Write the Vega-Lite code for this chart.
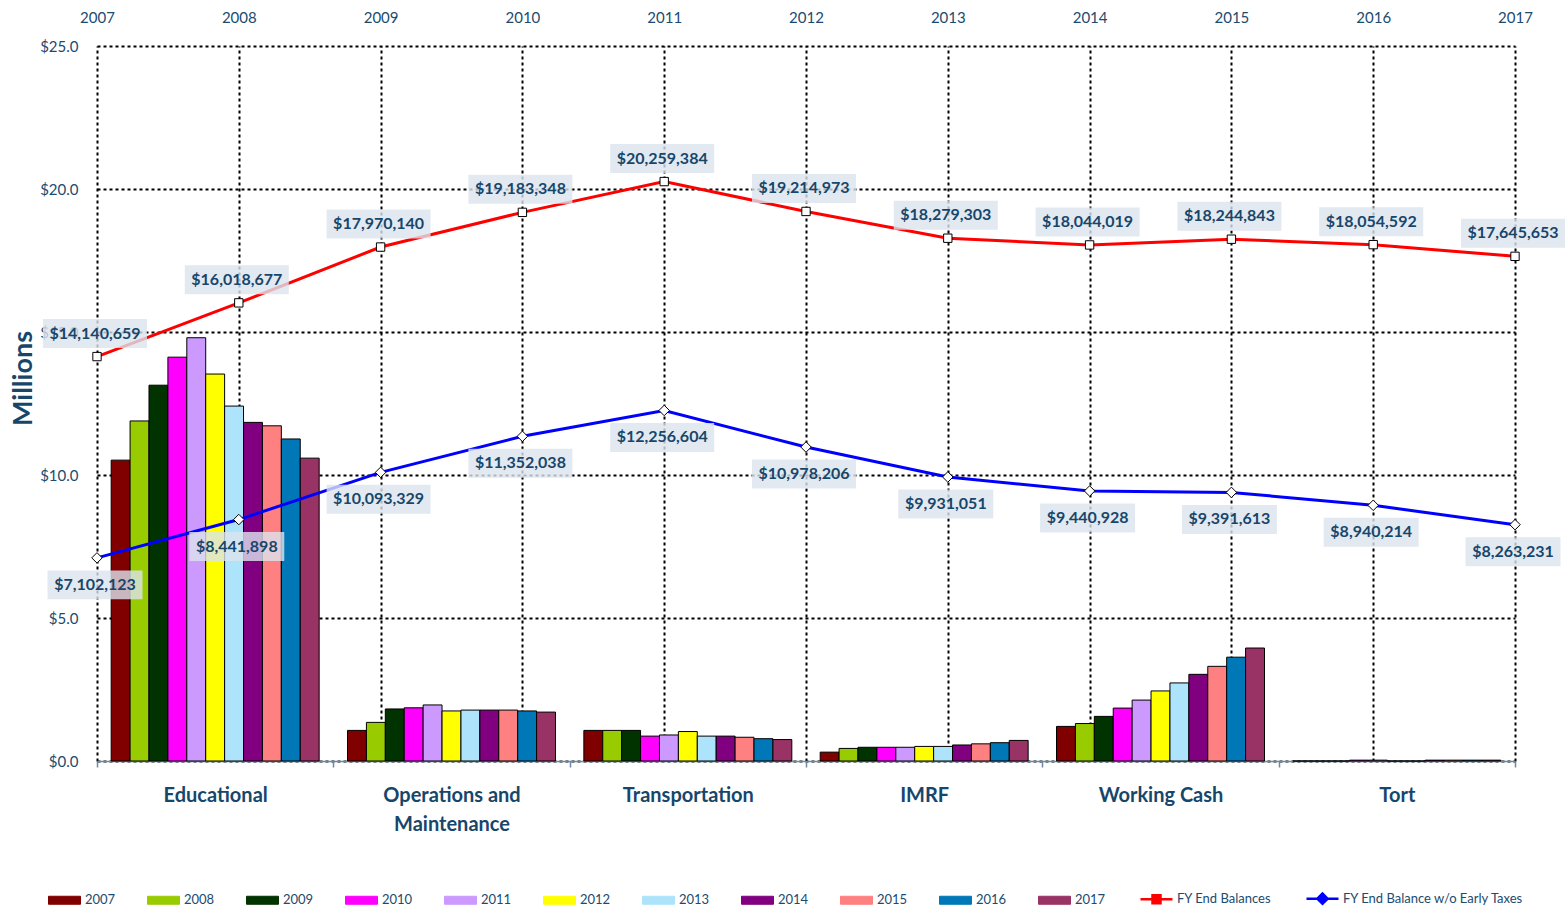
{
  "$schema": "https://vega.github.io/schema/vega-lite/v6.json",
  "width": 1418,
  "height": 715,
  "autosize": {"type": "none"},
  "padding": {"left": 97, "top": 46, "right": 52, "bottom": 148},
  "background": "white",
  "config": {
    "view": {"stroke": null},
    "font": "Lato",
    "axis": {"labelFont": "Lato", "titleFont": "Lato", "labelColor": "#1b4b6e", "titleColor": "#17466b"}
  },
  "datasets": {
    "bars": [
      {"category": "Educational", "year": "2007", "amount": 10520000},
      {"category": "Educational", "year": "2008", "amount": 11890000},
      {"category": "Educational", "year": "2009", "amount": 13140000},
      {"category": "Educational", "year": "2010", "amount": 14120000},
      {"category": "Educational", "year": "2011", "amount": 14800000},
      {"category": "Educational", "year": "2012", "amount": 13530000},
      {"category": "Educational", "year": "2013", "amount": 12410000},
      {"category": "Educational", "year": "2014", "amount": 11840000},
      {"category": "Educational", "year": "2015", "amount": 11720000},
      {"category": "Educational", "year": "2016", "amount": 11260000},
      {"category": "Educational", "year": "2017", "amount": 10590000},
      {"category": "Operations and Maintenance", "year": "2007", "amount": 1070000},
      {"category": "Operations and Maintenance", "year": "2008", "amount": 1350000},
      {"category": "Operations and Maintenance", "year": "2009", "amount": 1820000},
      {"category": "Operations and Maintenance", "year": "2010", "amount": 1860000},
      {"category": "Operations and Maintenance", "year": "2011", "amount": 1960000},
      {"category": "Operations and Maintenance", "year": "2012", "amount": 1750000},
      {"category": "Operations and Maintenance", "year": "2013", "amount": 1780000},
      {"category": "Operations and Maintenance", "year": "2014", "amount": 1780000},
      {"category": "Operations and Maintenance", "year": "2015", "amount": 1780000},
      {"category": "Operations and Maintenance", "year": "2016", "amount": 1750000},
      {"category": "Operations and Maintenance", "year": "2017", "amount": 1710000},
      {"category": "Transportation", "year": "2007", "amount": 1070000},
      {"category": "Transportation", "year": "2008", "amount": 1070000},
      {"category": "Transportation", "year": "2009", "amount": 1070000},
      {"category": "Transportation", "year": "2010", "amount": 870000},
      {"category": "Transportation", "year": "2011", "amount": 910000},
      {"category": "Transportation", "year": "2012", "amount": 1030000},
      {"category": "Transportation", "year": "2013", "amount": 870000},
      {"category": "Transportation", "year": "2014", "amount": 870000},
      {"category": "Transportation", "year": "2015", "amount": 830000},
      {"category": "Transportation", "year": "2016", "amount": 780000},
      {"category": "Transportation", "year": "2017", "amount": 750000},
      {"category": "IMRF", "year": "2007", "amount": 310000},
      {"category": "IMRF", "year": "2008", "amount": 440000},
      {"category": "IMRF", "year": "2009", "amount": 480000},
      {"category": "IMRF", "year": "2010", "amount": 480000},
      {"category": "IMRF", "year": "2011", "amount": 480000},
      {"category": "IMRF", "year": "2012", "amount": 510000},
      {"category": "IMRF", "year": "2013", "amount": 510000},
      {"category": "IMRF", "year": "2014", "amount": 560000},
      {"category": "IMRF", "year": "2015", "amount": 600000},
      {"category": "IMRF", "year": "2016", "amount": 640000},
      {"category": "IMRF", "year": "2017", "amount": 720000},
      {"category": "Working Cash", "year": "2007", "amount": 1210000},
      {"category": "Working Cash", "year": "2008", "amount": 1310000},
      {"category": "Working Cash", "year": "2009", "amount": 1560000},
      {"category": "Working Cash", "year": "2010", "amount": 1850000},
      {"category": "Working Cash", "year": "2011", "amount": 2130000},
      {"category": "Working Cash", "year": "2012", "amount": 2450000},
      {"category": "Working Cash", "year": "2013", "amount": 2730000},
      {"category": "Working Cash", "year": "2014", "amount": 3030000},
      {"category": "Working Cash", "year": "2015", "amount": 3310000},
      {"category": "Working Cash", "year": "2016", "amount": 3630000},
      {"category": "Working Cash", "year": "2017", "amount": 3950000},
      {"category": "Tort", "year": "2007", "amount": 0},
      {"category": "Tort", "year": "2008", "amount": 0},
      {"category": "Tort", "year": "2009", "amount": 0},
      {"category": "Tort", "year": "2010", "amount": 30000},
      {"category": "Tort", "year": "2011", "amount": 30000},
      {"category": "Tort", "year": "2012", "amount": 0},
      {"category": "Tort", "year": "2013", "amount": 0},
      {"category": "Tort", "year": "2014", "amount": 30000},
      {"category": "Tort", "year": "2015", "amount": 30000},
      {"category": "Tort", "year": "2016", "amount": 30000},
      {"category": "Tort", "year": "2017", "amount": 30000}
    ],
    "lines": [
      {"year": 2007, "series": "FY End Balances", "amount": 14140659},
      {"year": 2008, "series": "FY End Balances", "amount": 16018677},
      {"year": 2009, "series": "FY End Balances", "amount": 17970140},
      {"year": 2010, "series": "FY End Balances", "amount": 19183348},
      {"year": 2011, "series": "FY End Balances", "amount": 20259384},
      {"year": 2012, "series": "FY End Balances", "amount": 19214973},
      {"year": 2013, "series": "FY End Balances", "amount": 18279303},
      {"year": 2014, "series": "FY End Balances", "amount": 18044019},
      {"year": 2015, "series": "FY End Balances", "amount": 18244843},
      {"year": 2016, "series": "FY End Balances", "amount": 18054592},
      {"year": 2017, "series": "FY End Balances", "amount": 17645653},
      {"year": 2007, "series": "FY End Balance w/o Early Taxes", "amount": 7102123},
      {"year": 2008, "series": "FY End Balance w/o Early Taxes", "amount": 8441898},
      {"year": 2009, "series": "FY End Balance w/o Early Taxes", "amount": 10093329},
      {"year": 2010, "series": "FY End Balance w/o Early Taxes", "amount": 11352038},
      {"year": 2011, "series": "FY End Balance w/o Early Taxes", "amount": 12256604},
      {"year": 2012, "series": "FY End Balance w/o Early Taxes", "amount": 10978206},
      {"year": 2013, "series": "FY End Balance w/o Early Taxes", "amount": 9931051},
      {"year": 2014, "series": "FY End Balance w/o Early Taxes", "amount": 9440928},
      {"year": 2015, "series": "FY End Balance w/o Early Taxes", "amount": 9391613},
      {"year": 2016, "series": "FY End Balance w/o Early Taxes", "amount": 8940214},
      {"year": 2017, "series": "FY End Balance w/o Early Taxes", "amount": 8263231}
    ]
  },
  "layer": [
    {
      "data": {"name": "bars"},
      "mark": {"type": "bar", "stroke": "black", "strokeWidth": 1},
      "encoding": {
        "x": {
          "field": "category", "type": "nominal",
          "sort": ["Educational", "Operations and Maintenance", "Transportation", "IMRF", "Working Cash", "Tort"],
          "scale": {"paddingInner": 0, "paddingOuter": 0},
          "axis": {
            "title": null, "orient": "bottom", "labelAngle": 0,
            "labelFontSize": 20, "labelFontWeight": "bold", "labelColor": "#17466b",
            "labelPadding": 18, "labelLineHeight": 29,
            "labelExpr": "datum.label == 'Operations and Maintenance' ? ['Operations and', 'Maintenance'] : datum.label",
            "domainColor": "#6a8aa5", "domainWidth": 1.5,
            "tickColor": "#6a8aa5", "tickWidth": 1.5, "tickSize": 6, "tickBand": "extent",
            "grid": false
          }
        },
        "xOffset": {
          "field": "year", "type": "nominal",
          "scale": {"paddingInner": 0, "paddingOuter": 0.75}
        },
        "y": {
          "field": "amount", "type": "quantitative",
          "scale": {"domain": [0, 25000000], "nice": false},
          "axis": {
            "title": "Millions", "titleFontSize": 27, "titleFontWeight": "bold", "titlePadding": 2, "titleY": 332,
            "values": [0, 5000000, 10000000, 15000000, 20000000, 25000000],
            "labelExpr": "'$' + format(datum.value / 1000000, '.1f')",
            "labelFontSize": 15, "labelPadding": 19,
            "domain": false, "ticks": false,
            "grid": true, "gridColor": "black", "gridDash": [3, 3], "gridWidth": 2
          }
        },
        "color": {
          "field": "year", "type": "nominal",
          "scale": {
            "domain": ["2007", "2008", "2009", "2010", "2011", "2012", "2013", "2014", "2015", "2016", "2017", "FY End Balances", "FY End Balance w/o Early Taxes"],
            "range": ["#800000", "#99cc00", "#003300", "#ff00ff", "#cc99ff", "#ffff00", "#aee3fc", "#800080", "#ff8080", "#0077b6", "#993366", "#ff0000", "#0000ff"]
          },
          "legend": {
            "title": null, "orient": "none", "legendX": -39, "legendY": 846,
            "direction": "horizontal", "columns": 13, "columnPadding": 29,
            "symbolSize": 1024, "labelOffset": 14, "labelLimit": 400,
            "labelFont": "Lato", "labelFontSize": 13, "labelColor": "#1b4b6e",
            "encode": {
              "symbols": {
                "update": {
                  "shape": {"signal": "datum.value == 'FY End Balances' ? 'M-1,0H-0.25M0.25,0H1M-0.25,-0.25H0.25V0.25H-0.25Z' : (datum.value == 'FY End Balance w/o Early Taxes' ? 'M-1,0H-0.32M0.32,0H1M-0.32,0L0,-0.32L0.32,0L0,0.32Z' : 'M-1,-0.25H1V0.25H-1Z')"},
                  "fill": {"signal": "indexof(['FY End Balances', 'FY End Balance w/o Early Taxes'], datum.value) >= 0 ? 'white' : scale('color', datum.value)"},
                  "stroke": {"signal": "indexof(['FY End Balances', 'FY End Balance w/o Early Taxes'], datum.value) >= 0 ? scale('color', datum.value) : 'black'"},
                  "strokeWidth": {"signal": "indexof(['FY End Balances', 'FY End Balance w/o Early Taxes'], datum.value) >= 0 ? 2.5 : 1"},
                  "opacity": {"value": 1},
                  "fillOpacity": {"value": 1},
                  "strokeOpacity": {"value": 1}
                }
              }
            }
          }
        }
      }
    },
    {
      "data": {"name": "lines"},
      "encoding": {
        "x": {
          "field": "year", "type": "quantitative",
          "scale": {"domain": [2007, 2017], "nice": false, "zero": false},
          "axis": {
            "title": null, "orient": "top",
            "values": [2007, 2008, 2009, 2010, 2011, 2012, 2013, 2014, 2015, 2016, 2017],
            "format": "d", "labelFontSize": 15, "labelPadding": 21, "labelFlush": false,
            "domain": false, "ticks": false,
            "grid": true, "gridColor": "black", "gridDash": [3, 3], "gridWidth": 2
          }
        },
        "y": {
          "field": "amount", "type": "quantitative",
          "axis": {
            "title": "Millions", "titleFontSize": 27, "titleFontWeight": "bold", "titlePadding": 2, "titleY": 332,
            "values": [0, 5000000, 10000000, 15000000, 20000000, 25000000],
            "labelExpr": "'$' + format(datum.value / 1000000, '.1f')",
            "labelFontSize": 15, "labelPadding": 19,
            "domain": false, "ticks": false,
            "grid": true, "gridColor": "black", "gridDash": [3, 3], "gridWidth": 2
          }
        }
      },
      "layer": [
        {
          "mark": {"type": "line", "strokeWidth": 3},
          "encoding": {
            "color": {
              "field": "series", "type": "nominal",
              "legend": {
                "title": null, "orient": "none", "legendX": -39, "legendY": 846,
                "direction": "horizontal", "columns": 13, "columnPadding": 29,
                "symbolSize": 1024, "labelOffset": 14, "labelLimit": 400,
                "labelFont": "Lato", "labelFontSize": 13, "labelColor": "#1b4b6e",
                "encode": {
                  "symbols": {
                    "update": {
                      "shape": {"signal": "datum.value == 'FY End Balances' ? 'M-1,0H-0.25M0.25,0H1M-0.25,-0.25H0.25V0.25H-0.25Z' : (datum.value == 'FY End Balance w/o Early Taxes' ? 'M-1,0H-0.32M0.32,0H1M-0.32,0L0,-0.32L0.32,0L0,0.32Z' : 'M-1,-0.25H1V0.25H-1Z')"},
                      "fill": {"signal": "indexof(['FY End Balances', 'FY End Balance w/o Early Taxes'], datum.value) >= 0 ? 'white' : scale('color', datum.value)"},
                      "stroke": {"signal": "indexof(['FY End Balances', 'FY End Balance w/o Early Taxes'], datum.value) >= 0 ? scale('color', datum.value) : 'black'"},
                      "strokeWidth": {"signal": "indexof(['FY End Balances', 'FY End Balance w/o Early Taxes'], datum.value) >= 0 ? 2.5 : 1"},
                      "opacity": {"value": 1},
                      "fillOpacity": {"value": 1},
                      "strokeOpacity": {"value": 1}
                    }
                  }
                }
              }
            }
          }
        },
        {
          "transform": [{"filter": "datum.series == 'FY End Balances'"}],
          "mark": {"type": "point", "shape": "square", "size": 70, "filled": true, "fill": "white", "stroke": "black", "strokeWidth": 1, "opacity": 1}
        },
        {
          "transform": [{"filter": "datum.series != 'FY End Balances'"}],
          "mark": {"type": "point", "shape": "diamond", "size": 110, "filled": true, "fill": "white", "stroke": "black", "strokeWidth": 1, "opacity": 1}
        },
        {
          "transform": [{"filter": "datum.series == 'FY End Balances'"}],
          "mark": {"type": "point", "filled": true, "fill": "#dce3ee", "fillOpacity": 0.8, "strokeWidth": 0, "yOffset": -23, "xOffset": -2},
          "encoding": {
            "shape": {"condition": {"test": "datum.amount >= 10000000", "value": "M-1,-0.279H1V0.279H-1Z"}, "value": "M-1,-0.305H1V0.305H-1Z"},
            "size": {"condition": {"test": "datum.amount >= 10000000", "value": 10816}, "value": 9025}
          }
        },
        {
          "transform": [{"filter": "datum.series != 'FY End Balances'"}],
          "mark": {"type": "point", "filled": true, "fill": "#dce3ee", "fillOpacity": 0.8, "strokeWidth": 0, "yOffset": 27, "xOffset": -2},
          "encoding": {
            "shape": {"condition": {"test": "datum.amount >= 10000000", "value": "M-1,-0.279H1V0.279H-1Z"}, "value": "M-1,-0.305H1V0.305H-1Z"},
            "size": {"condition": {"test": "datum.amount >= 10000000", "value": 10816}, "value": 9025}
          }
        },
        {
          "transform": [{"filter": "datum.series == 'FY End Balances'"}],
          "mark": {"type": "text", "font": "Lato", "fontSize": 16, "fontWeight": "bold", "color": "#17466b", "baseline": "middle", "yOffset": -23, "xOffset": -2},
          "encoding": {"text": {"field": "amount", "format": "$,.0f"}}
        },
        {
          "transform": [{"filter": "datum.series != 'FY End Balances'"}],
          "mark": {"type": "text", "font": "Lato", "fontSize": 16, "fontWeight": "bold", "color": "#17466b", "baseline": "middle", "yOffset": 27, "xOffset": -2},
          "encoding": {"text": {"field": "amount", "format": "$,.0f"}}
        }
      ]
    }
  ],
  "resolve": {"scale": {"x": "independent"}, "axis": {"x": "independent"}}
}
